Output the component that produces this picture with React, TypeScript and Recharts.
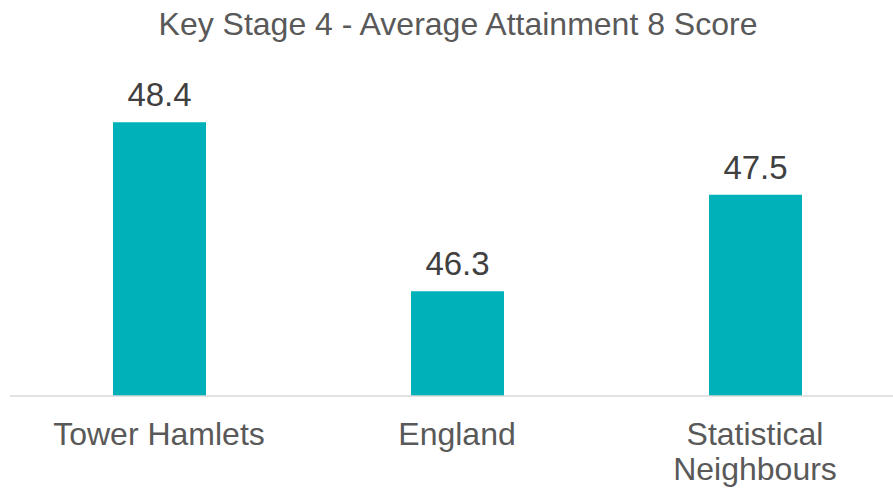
import { BarChart, Bar, XAxis, YAxis, LabelList } from 'recharts';

const categories = ['Tower Hamlets', 'England', 'Statistical Neighbours'];
const scores = [48.4, 46.3, 47.5];

const chartData = categories.map((name, i) => ({ name, score: scores[i] }));

const TEAL = '#00B1BA';
const FONT = '"Liberation Sans", Arial, sans-serif';

function CategoryTick(props: any) {
  const { x, y, payload } = props;
  const label: string = payload.value;
  const lines = label === 'Statistical Neighbours' ? ['Statistical', 'Neighbours'] : [label];
  return (
    <text x={x} y={y + 41} textAnchor="middle" fill="#595959" fontSize={32} fontFamily={FONT}>
      {lines.map((ln, i) => (
        <tspan key={i} x={x} dy={i === 0 ? 0 : 35}>{ln}</tspan>
      ))}
    </text>
  );
}

export default function App() {
  return (
    <div style={{ position: 'absolute', left: 0, top: 0, width: 893, height: 489, overflow: 'hidden', background: '#fff' }}>
      <div
        style={{
          position: 'absolute', left: 0, top: 7, width: 916, textAlign: 'center',
          fontFamily: FONT, fontSize: 32, color: '#595959', lineHeight: '34px',
        }}
      >
        Key Stage 4 - Average Attainment 8 Score
      </div>
      <BarChart
        width={920}
        height={489}
        data={chartData}
        margin={{ top: 74, right: 16, left: 10, bottom: 0 }}
      >
        <XAxis
          dataKey="name"
          axisLine={{ stroke: '#d9d9d9', strokeWidth: 1.5 }}
          tickLine={false}
          tick={<CategoryTick />}
          interval={0}
          height={93}
        />
        <YAxis hide domain={[45, 49]} width={0} />
        <Bar dataKey="score" fill={TEAL} barSize={93} isAnimationActive={false}>
          <LabelList
            dataKey="score"
            position="top"
            offset={16}
            fill="#404040"
            fontSize={33}
            fontFamily={FONT}
            formatter={(v: any) => Number(v).toFixed(1)}
          />
        </Bar>
      </BarChart>
    </div>
  );
}
